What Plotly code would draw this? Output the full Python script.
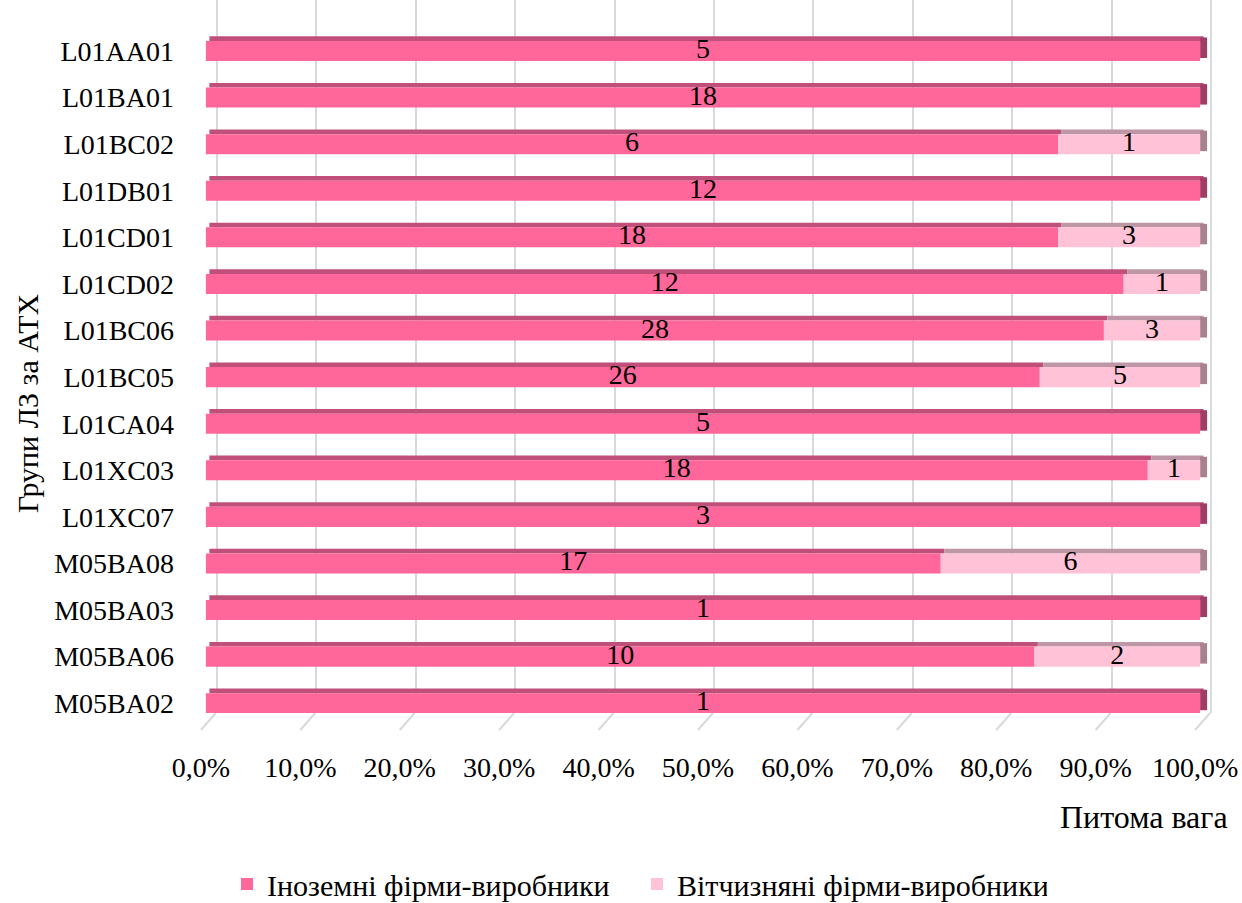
import plotly.graph_objects as go

# ---- data (top to bottom) ----
categories = ["L01AA01", "L01BA01", "L01BC02", "L01DB01", "L01CD01", "L01CD02",
              "L01BC06", "L01BC05", "L01CA04", "L01XC03", "L01XC07", "M05BA08",
              "M05BA03", "M05BA06", "M05BA02"]
foreign = [5, 18, 6, 12, 18, 12, 28, 26, 5, 18, 3, 17, 1, 10, 1]
domestic = [0, 0, 1, 0, 3, 1, 3, 5, 0, 1, 0, 6, 0, 2, 0]
series_names = ["Іноземні фірми-виробники", "Вітчизняні фірми-виробники"]
tick_vals = [0, 10, 20, 30, 40, 50, 60, 70, 80, 90, 100]
tick_text = ["0,0%", "10,0%", "20,0%", "30,0%", "40,0%", "50,0%",
             "60,0%", "70,0%", "80,0%", "90,0%", "100,0%"]
x_title = "Питома вага"
y_title = "Групи ЛЗ за АТХ"

# ---- styling ----
W, H = 1242, 903
ML, MR, MT, MB = 191, 22, 0, 190
FONT = "Liberation Serif"
FS = 28
C_FACE1, C_TOP1, C_SIDE1 = "#FF6699", "#C0507A", "#A23C66"
C_FACE2, C_TOP2, C_SIDE2 = "#FFC2D6", "#BE97A6", "#A8808F"

totals = [f + d for f, d in zip(foreign, domestic)]
share_f = [100.0 * f / t for f, t in zip(foreign, totals)]
share_d = [100.0 * d / t for d, t in zip(domestic, totals)]
ends = [a + b for a, b in zip(share_f, share_d)]

FACE_OFF, FACE_W = -0.215, 0.43
TOP_OFF, TOP_W = -0.315, 0.10
SIDE_OFF, SIDE_W = -0.29, 0.44
SHIFT = 0.35

fig = go.Figure()

# top bevels
fig.add_trace(go.Bar(y=categories, x=share_f, base=[SHIFT] * len(categories), orientation="h",
                     offset=TOP_OFF, width=TOP_W, marker=dict(color=C_TOP1, line=dict(width=0)),
                     showlegend=False, hoverinfo="skip"))
fig.add_trace(go.Bar(y=categories, x=share_d, base=[s + SHIFT for s in share_f], orientation="h",
                     offset=TOP_OFF, width=TOP_W, marker=dict(color=C_TOP2, line=dict(width=0)),
                     showlegend=False, hoverinfo="skip"))
# right side faces
side_colors = [C_SIDE2 if d > 0 else C_SIDE1 for d in domestic]
fig.add_trace(go.Bar(y=categories, x=[0.7] * len(categories), base=ends, orientation="h",
                     offset=SIDE_OFF, width=SIDE_W, marker=dict(color=side_colors, line=dict(width=0)),
                     showlegend=False, hoverinfo="skip"))
# front faces
fig.add_trace(go.Bar(y=categories, x=share_f, base=[0] * len(categories), orientation="h",
                     offset=FACE_OFF, width=FACE_W, name=series_names[0],
                     marker=dict(color=C_FACE1, line=dict(width=0))))
fig.add_trace(go.Bar(y=categories, x=share_d, base=share_f, orientation="h",
                     offset=FACE_OFF, width=FACE_W, name=series_names[1],
                     marker=dict(color=C_FACE2, line=dict(width=0))))

# data labels
lx, ly, lt = [], [], []
for c, f, d, sf, sd in zip(categories, foreign, domestic, share_f, share_d):
    if f > 0:
        lx.append(sf / 2); ly.append(c); lt.append(str(f))
    if d > 0:
        lx.append(sf + sd / 2); ly.append(c); lt.append(str(d))
fig.add_trace(go.Scatter(x=lx, y=ly, text=lt, mode="text", textposition="middle center",
                         textfont=dict(family=FONT, size=FS, color="black"),
                         showlegend=False, hoverinfo="skip", cliponaxis=False))

# invisible trace to activate grid axis
fig.add_trace(go.Scatter(x=[0, 100], y=[categories[0], categories[0]], xaxis="x2",
                         mode="markers", marker=dict(opacity=0), showlegend=False, hoverinfo="skip"))

n = len(categories)
plot_w = W - ML - MR
plot_h = H - MT - MB


def px_x(p):
    return (p - ML) / plot_w


def px_y(p):
    return (H - MB - p) / plot_h


# floor depth ticks
shapes = []
for v in tick_vals:
    shapes.append(dict(type="line", xref="x2", yref="paper", xsizemode="pixel", ysizemode="pixel",
                       xanchor=v, yanchor=0, x0=-1, x1=-16, y0=0, y1=-17,
                       line=dict(color="#D9D9D9", width=2), layer="below"))

fig.update_layout(
    width=W, height=H,
    margin=dict(l=ML, r=MR, t=MT, b=MB),
    paper_bgcolor="white", plot_bgcolor="white",
    barmode="overlay",
    font=dict(family=FONT, size=FS, color="black"),
    xaxis=dict(range=[-1.5, 102.0], tickvals=tick_vals, ticktext=tick_text,
               showgrid=False, zeroline=False, showline=False,
               ticks="outside", ticklen=0, ticklabelstandoff=29, ticklabelshift=-5,
               tickfont=dict(family=FONT, size=FS, color="black")),
    xaxis2=dict(range=[-2.6, 100.9], overlaying="x", side="bottom", showticklabels=False,
                showgrid=True, gridcolor="#D9D9D9", gridwidth=2, tick0=0, dtick=10,
                zeroline=False, showline=False, ticks=""),
    yaxis=dict(type="category", categoryorder="array", categoryarray=categories,
               range=[n - 1 + 0.21, -1.095], showgrid=False, zeroline=False, showline=False,
               ticks="", ticklabelstandoff=16,
               tickfont=dict(family=FONT, size=FS, color="black")),
    legend=dict(orientation="h", xref="container", yref="container",
                x=227 / W, xanchor="left", y=1 - 884 / H, yanchor="middle",
                font=dict(family=FONT, size=30, color="black"), traceorder="normal",
                itemwidth=30, entrywidth=365, entrywidthmode="pixels"),
    shapes=shapes,
    annotations=[
        dict(text=x_title, xref="paper", yref="paper", x=px_x(1230), y=px_y(817),
             xanchor="right", yanchor="middle", showarrow=False,
             font=dict(family=FONT, size=32, color="black")),
        dict(text=y_title, xref="paper", yref="paper", x=px_x(27), y=px_y(403),
             xanchor="center", yanchor="middle", textangle=-90, showarrow=False,
             font=dict(family=FONT, size=30, color="black")),
    ],
)

fig.write_html("out.html")
